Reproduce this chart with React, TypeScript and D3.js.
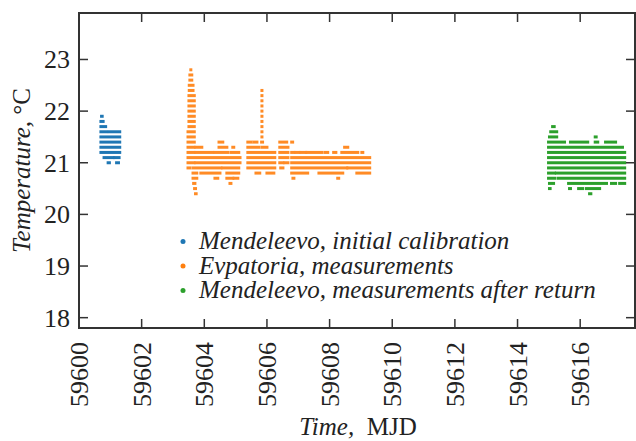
import React from "react";
import * as d3 from "d3";

type Run = [number, number, number]; // [startMJD, endMJD, temperature]

const xTicks = [59600, 59602, 59604, 59606, 59608, 59610, 59612, 59614, 59616];
const yTicks = [18, 19, 20, 21, 22, 23];
const seriesNames = [
  "Mendeleevo, initial calibration",
  "Evpatoria, measurements",
  "Mendeleevo, measurements after return",
];
const seriesColors = ["#1f77b4", "#ff7f0e", "#2ca02c"];

const mendeleevoInitial: Run[] = [
  [59600.72, 59600.74, 21.9],
  [59600.7, 59600.77, 21.8],
  [59600.7, 59600.85, 21.7],
  [59600.7, 59600.88, 21.6], [59600.97, 59601.3, 21.6],
  [59600.7, 59601.3, 21.5],
  [59600.7, 59601.3, 21.4],
  [59600.7, 59601.3, 21.3],
  [59600.7, 59601.3, 21.2],
  [59600.8, 59601.09, 21.1], [59601.14, 59601.28, 21.1],
  [59600.93, 59600.97, 21.0], [59601.2, 59601.26, 21.0],
];

const evpatoria: Run[] = [
  // first spike
  [59603.57, 59603.57, 22.8],
  [59603.54, 59603.6, 22.7],
  [59603.54, 59603.6, 22.6],
  [59603.52, 59603.64, 22.5],
  [59603.52, 59603.64, 22.4],
  [59603.51, 59603.68, 22.3],
  [59603.51, 59603.68, 22.2],
  [59603.51, 59603.68, 22.1],
  [59603.51, 59603.68, 22.0],
  [59603.51, 59603.68, 21.9],
  [59603.51, 59603.68, 21.8],
  [59603.51, 59603.68, 21.7],
  [59603.48, 59603.68, 21.6],
  [59603.48, 59603.68, 21.5],
  [59603.48, 59603.68, 21.4],
  // second spike
  [59605.84, 59605.84, 22.4],
  [59605.84, 59605.84, 22.3],
  [59605.84, 59605.84, 22.2],
  [59605.84, 59605.84, 22.1],
  [59605.84, 59605.84, 22.0],
  [59605.84, 59605.84, 21.9],
  [59605.84, 59605.84, 21.8],
  [59605.84, 59605.84, 21.7],
  [59605.84, 59605.84, 21.6],
  [59605.84, 59605.84, 21.5],
  // main bands
  [59604.47, 59604.59, 21.4], [59605.39, 59605.49, 21.4], [59605.58, 59605.68, 21.4],
  [59605.83, 59605.86, 21.4], [59606.41, 59606.63, 21.4], [59606.79, 59606.82, 21.4],
  [59603.48, 59603.67, 21.3], [59603.73, 59603.92, 21.3], [59604.47, 59604.72, 21.3],
  [59604.91, 59604.94, 21.3], [59605.39, 59605.74, 21.3], [59605.84, 59606.0, 21.3],
  [59606.41, 59606.67, 21.3], [59608.48, 59608.58, 21.3],
  [59603.48, 59603.67, 21.2], [59603.73, 59604.27, 21.2], [59604.34, 59604.75, 21.2],
  [59604.85, 59605.1, 21.2], [59605.39, 59606.25, 21.2], [59606.41, 59606.67, 21.2],
  [59606.79, 59606.86, 21.2], [59606.92, 59607.02, 21.2], [59607.08, 59607.24, 21.2],
  [59607.27, 59607.75, 21.2], [59607.85, 59607.94, 21.2], [59608.13, 59608.2, 21.2],
  [59608.39, 59608.9, 21.2], [59609.03, 59609.06, 21.2],
  [59603.48, 59605.14, 21.1], [59605.39, 59606.25, 21.1], [59606.41, 59606.67, 21.1],
  [59606.79, 59609.28, 21.1],
  [59603.48, 59603.67, 21.0], [59603.73, 59605.14, 21.0], [59605.39, 59606.25, 21.0],
  [59606.41, 59606.51, 21.0], [59606.57, 59606.67, 21.0], [59606.79, 59609.28, 21.0],
  [59603.48, 59603.54, 20.9], [59603.64, 59604.53, 20.9], [59604.59, 59605.1, 20.9],
  [59605.39, 59606.25, 20.9], [59606.44, 59606.51, 20.9], [59606.79, 59608.55, 20.9],
  [59608.58, 59609.28, 20.9],
  [59603.64, 59603.76, 20.8], [59603.89, 59604.5, 20.8], [59604.72, 59605.1, 20.8],
  [59605.65, 59605.77, 20.8], [59606.0, 59606.22, 20.8], [59606.79, 59607.3, 20.8],
  [59607.66, 59608.42, 20.8], [59608.87, 59609.28, 20.8],
  [59603.64, 59603.76, 20.7], [59604.34, 59604.43, 20.7], [59604.72, 59604.91, 20.7],
  [59604.95, 59605.07, 20.7], [59606.83, 59606.86, 20.7], [59608.26, 59608.29, 20.7],
  [59603.66, 59603.7, 20.6], [59604.82, 59604.85, 20.6],
  [59603.69, 59603.72, 20.5],
  [59603.72, 59603.74, 20.4],
];

const mendeleevoReturn: Run[] = [
  [59615.12, 59615.17, 21.7],
  [59615.06, 59615.25, 21.6],
  [59615.02, 59615.25, 21.5], [59616.48, 59616.51, 21.5],
  [59614.99, 59615.5, 21.4], [59615.69, 59616.24, 21.4], [59616.48, 59616.56, 21.4],
  [59616.81, 59617.13, 21.4],
  [59614.99, 59615.6, 21.3], [59615.69, 59617.35, 21.3],
  [59614.99, 59617.42, 21.2],
  [59614.99, 59617.42, 21.1],
  [59614.99, 59617.42, 21.0],
  [59614.99, 59617.42, 20.9],
  [59614.99, 59615.18, 20.8], [59615.24, 59617.42, 20.8],
  [59614.99, 59615.18, 20.7], [59615.29, 59617.42, 20.7],
  [59615.02, 59615.15, 20.6], [59615.63, 59616.84, 20.6], [59617.0, 59617.13, 20.6],
  [59617.26, 59617.42, 20.6],
  [59615.02, 59615.04, 20.5], [59615.66, 59615.69, 20.5], [59615.95, 59616.08, 20.5],
  [59616.2, 59616.62, 20.5],
  [59616.3, 59616.34, 20.4],
];

const allSeries = [mendeleevoInitial, evpatoria, mendeleevoReturn];

const W = 636;
const H = 441;
const FONT =
  '"Times New Roman", Times, "Liberation Serif", Tinos, "Noto Serif", "DejaVu Serif", FreeSerif, serif';
const AXIS = "#333";
const TXT = "#222";

export default function App() {
  const x = d3.scaleLinear().domain([59600, 59617.75]).range([79, 635]);
  const y = d3.scaleLinear().domain([17.8, 23.9]).range([328, 13]);
  const [x0, x1] = x.range();
  const [y0, y1] = y.range();
  const tickLen = 9;
  const ts = { fontFamily: FONT };

  return (
    <svg
      width={W}
      height={H}
      style={{ position: "absolute", left: 0, top: 0, background: "#fff", fontFamily: FONT }}
    >
      <rect width={W} height={H} fill="#fff" />
      {allSeries.map((runs, si) => (
        <g key={si} fill={seriesColors[si]} opacity={si === 1 ? 0.9 : 1}>
          {runs.map((r, i) => (
            <rect
              key={i}
              x={x(r[0]) - 1.5}
              y={y(r[2]) - 1.5}
              width={x(r[1]) - x(r[0]) + 3}
              height={3}
            />
          ))}
        </g>
      ))}

      {/* frame */}
      <rect x={x0} y={y1} width={x1 - x0} height={y0 - y1} fill="none" stroke={AXIS} strokeWidth={2} />

      {/* y ticks */}
      {yTicks.map((t) => (
        <g key={t}>
          <line x1={x0} x2={x0 + tickLen} y1={y(t)} y2={y(t)} stroke={AXIS} strokeWidth={1.5} />
          <line x1={x1} x2={x1 - tickLen} y1={y(t)} y2={y(t)} stroke={AXIS} strokeWidth={1.5} />
          <text x={70} y={y(t) + 9} textAnchor="end" fontSize={26} fill={TXT} style={ts}>
            {t}
          </text>
        </g>
      ))}

      {/* x ticks */}
      {xTicks.map((t) => (
        <g key={t}>
          {t !== 59600 && (
            <>
              <line x1={x(t)} x2={x(t)} y1={y0} y2={y0 - tickLen} stroke={AXIS} strokeWidth={1.5} />
              <line x1={x(t)} x2={x(t)} y1={y1} y2={y1 + tickLen} stroke={AXIS} strokeWidth={1.5} />
            </>
          )}
          <text
            transform={`translate(${x(t) + 9},${342}) rotate(-90)`}
            textAnchor="end"
            fontSize={26}
            fill={TXT}
            style={ts}
          >
            {t}
          </text>
        </g>
      ))}

      {/* axis titles */}
      <text
        transform={`translate(30,${(y0 + y1) / 2}) rotate(-90)`}
        textAnchor="middle"
        fontSize={25}
        fill={TXT}
        style={ts}
      >
        <tspan fontStyle="italic">Temperature,</tspan>
        <tspan> °C</tspan>
      </text>
      <text x={358} y={435} textAnchor="middle" fontSize={25} fill={TXT} style={ts}>
        <tspan fontStyle="italic">Time,</tspan>
        <tspan>{"\u00a0\u00a0MJD"}</tspan>
      </text>

      {/* legend */}
      {seriesNames.map((name, i) => (
        <g key={name}>
          <circle cx={183} cy={241.5 + i * 24.5} r={2.5} fill={seriesColors[i]} />
          <text x={199} y={249 + i * 24.5} fontSize={25} fontStyle="italic" fill={TXT} style={ts}>
            {name}
          </text>
        </g>
      ))}
    </svg>
  );
}
